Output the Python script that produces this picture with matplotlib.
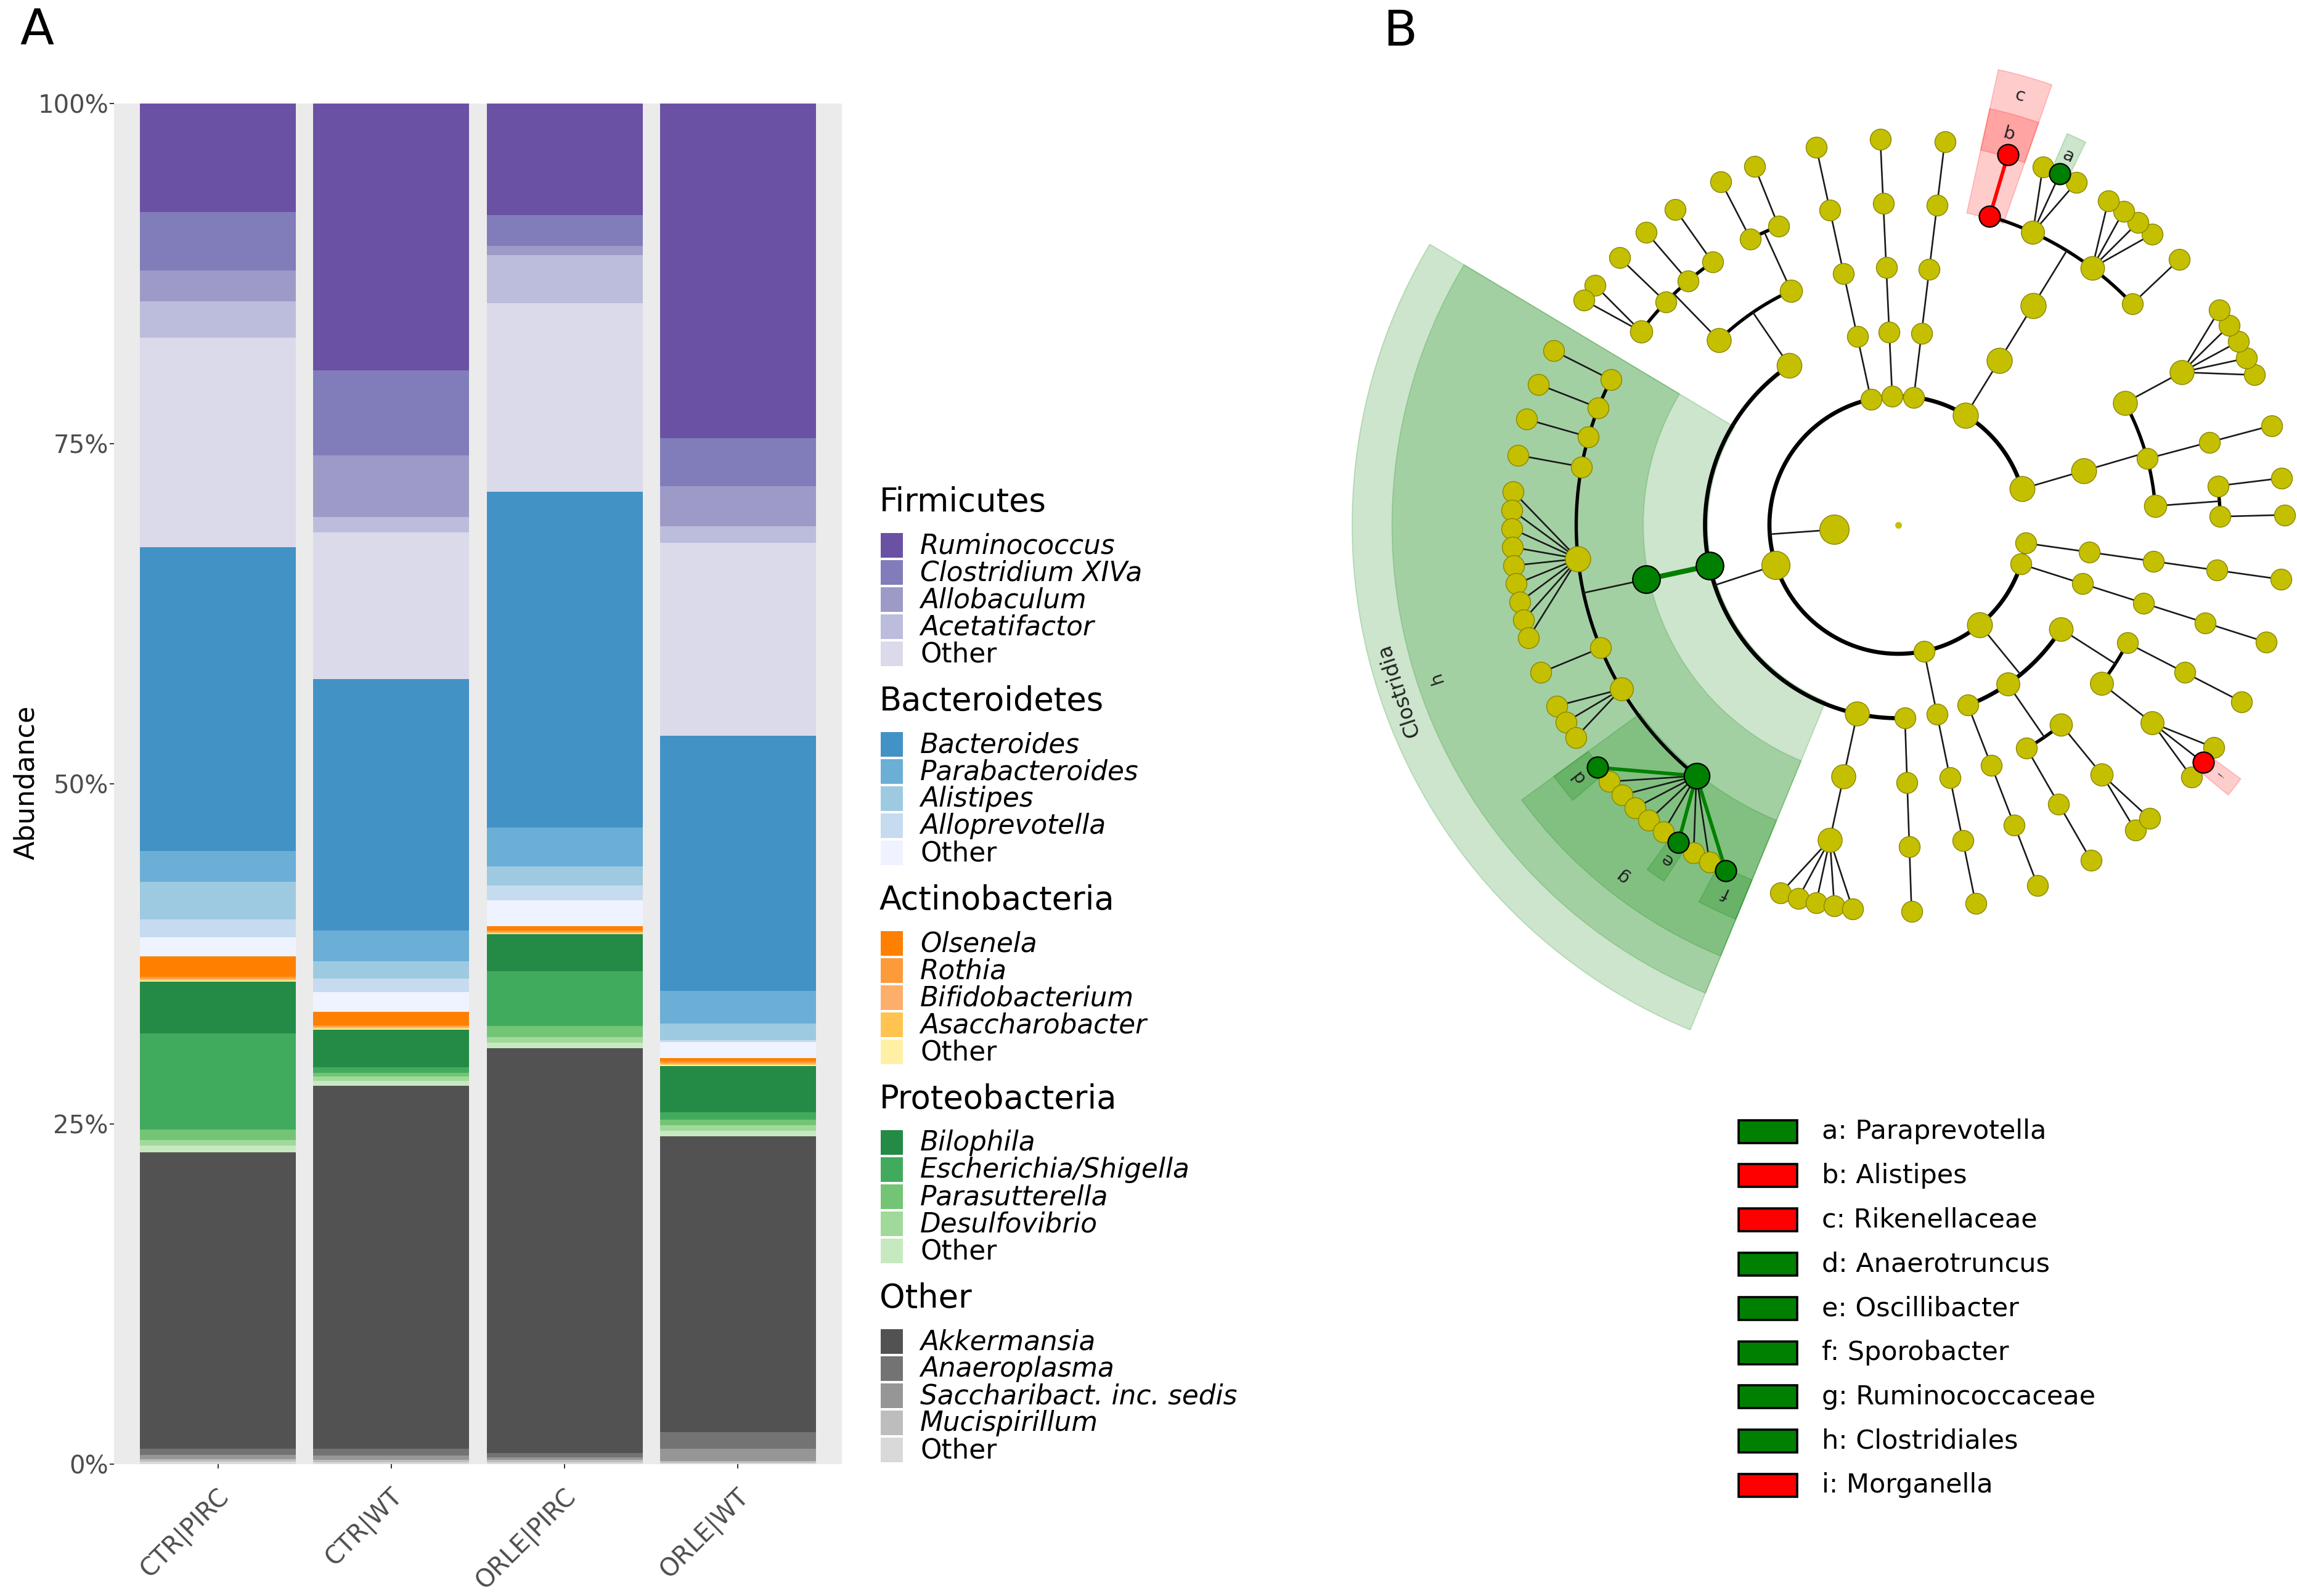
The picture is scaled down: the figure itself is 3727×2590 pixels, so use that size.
import numpy as np
import matplotlib
matplotlib.use("Agg")
import matplotlib.pyplot as plt
from matplotlib.patches import Rectangle, Wedge
from matplotlib.transforms import ScaledTranslation

plt.rcParams["font.family"] = ["DejaVu Sans"]

W, H, DPI = 3727, 2590, 100

# ---------------- panel A: genus level relative abundance (%) ----------------
samples = ["CTR|PIRC", "CTR|WT", "ORLE|PIRC", "ORLE|WT"]
group_names = ["Firmicutes", "Bacteroidetes", "Actinobacteria", "Proteobacteria", "Other"]

firmicutes_genera = ["Ruminococcus", "Clostridium XIVa", "Allobaculum", "Acetatifactor", "Other"]
bacteroidetes_genera = ["Bacteroides", "Parabacteroides", "Alistipes", "Alloprevotella", "Other"]
actinobacteria_genera = ["Olsenela", "Rothia", "Bifidobacterium", "Asaccharobacter", "Other"]
proteobacteria_genera = ["Bilophila", "Escherichia/Shigella", "Parasutterella", "Desulfovibrio", "Other"]
other_genera = ["Akkermansia", "Anaeroplasma", "Saccharibact. inc. sedis", "Mucispirillum", "Other"]

firmicutes_colors = ["#6a51a3", "#807dba", "#9e9ac8", "#bcbddc", "#dadaeb"]
bacteroidetes_colors = ["#4292c6", "#6baed6", "#9ecae1", "#c6dbef", "#eff3ff"]
actinobacteria_colors = ["#ff7f00", "#fd9a3a", "#fdae6b", "#fec44f", "#fff0a5"]
proteobacteria_colors = ["#238b45", "#41ab5d", "#74c476", "#a1d99b", "#c7e9c0"]
other_colors = ["#525252", "#737373", "#969696", "#bdbdbd", "#d9d9d9"]

# rows = genera (same order as above), columns = samples
firmicutes_pct = [
    [7.96, 19.63, 8.21, 24.58],
    [4.33, 6.24, 2.25, 3.54],
    [2.25, 4.50, 0.69, 2.94],
    [2.67, 1.14, 3.53, 1.21],
    [15.41, 10.80, 13.85, 14.20],
]
bacteroidetes_pct = [
    [22.30, 18.46, 24.70, 18.73],
    [2.30, 2.29, 2.82, 2.42],
    [2.74, 1.25, 1.41, 1.21],
    [1.33, 1.01, 1.09, 0.15],
    [1.41, 1.45, 1.89, 1.18],
]
actinobacteria_pct = [
    [1.49, 0.97, 0.33, 0.24],
    [0.10, 0.10, 0.08, 0.10],
    [0.05, 0.06, 0.05, 0.05],
    [0.10, 0.10, 0.10, 0.10],
    [0.08, 0.06, 0.05, 0.08],
]
proteobacteria_pct = [
    [3.83, 2.79, 2.74, 3.42],
    [7.05, 0.40, 4.03, 0.53],
    [0.80, 0.28, 0.81, 0.40],
    [0.40, 0.32, 0.40, 0.40],
    [0.50, 0.33, 0.41, 0.41],
]
other_pct = [
    [21.77, 26.69, 29.75, 21.77],
    [0.45, 0.50, 0.30, 1.21],
    [0.30, 0.30, 0.20, 0.89],
    [0.20, 0.18, 0.16, 0.14],
    [0.18, 0.15, 0.15, 0.10],
]

# ---------------- panel B: LEfSe cladogram ----------------
# phylum -> classes -> orders -> families (number of genera in each family)
clade_tree = [
    [[[1, 1], [1], [5]]],
    [[[1, 4, 3, 1]]],
    [[[1]]],
    [[[1]]],
    [[[1]]],
    [[[1, 1], [1, 1, 1, 2]], [[1, 1, 1, 1, 9, 1, 3, 10]], [[5]], [[1]]],
    [[[1]]],
    [[[1]], [[1], [2]], [[3], [1]]],
    [[[1]]],
    [[[1]]],
]
# significant clades: (phylum, class, order, family, genus) index path
sig_paths = [(1, 0, 0, 2, 1), (1, 0, 0, 3, 0), (1, 0, 0, 3), (5, 1, 0, 7, 0), (5, 1, 0, 7, 6),
             (5, 1, 0, 7, 9), (5, 1, 0, 7), (5, 1, 0), (5, 1), (7, 2, 0, 0, 1)]
sig_labels = ["a", "b", "c", "d", "e", "f", "g", "h", "Clostridia", "i"]
sig_taxa = ["Paraprevotella", "Alistipes", "Rikenellaceae", "Anaerotruncus", "Oscillibacter",
            "Sporobacter", "Ruminococcaceae", "Clostridiales", "Clostridia", "Morganella"]
sig_group = ["green", "red", "red", "green", "green", "green", "green", "green", "green", "red"]
group_color = {"green": "#008000", "red": "#ff0000"}

fig = plt.figure(figsize=(W / DPI, H / DPI), dpi=DPI)

# ======================= panel A =======================
axA = fig.add_axes([185 / W, 1 - 2376 / H, (1366 - 185) / W, (2376 - 168) / H])
axA.set_facecolor("#EBEBEB")
group_pct = [firmicutes_pct, bacteroidetes_pct, actinobacteria_pct, proteobacteria_pct, other_pct]
group_cols = [firmicutes_colors, bacteroidetes_colors, actinobacteria_colors,
              proteobacteria_colors, other_colors]
group_gen = [firmicutes_genera, bacteroidetes_genera, actinobacteria_genera,
             proteobacteria_genera, other_genera]

x = np.arange(len(samples))
bottom = np.zeros(len(samples))
for pct, cols in zip(group_pct[::-1], group_cols[::-1]):
    for vals, col in zip(pct[::-1], cols[::-1]):
        axA.bar(x, vals, width=0.9, bottom=bottom, color=col, linewidth=0)
        bottom += np.array(vals)

axA.set_xlim(-0.6, 3.6)
axA.set_ylim(0, 100)
axA.set_yticks([0, 25, 50, 75, 100])
axA.set_yticklabels(["0%", "25%", "50%", "75%", "100%"])
axA.set_xticks(x)
axA.set_xticklabels(samples)
for s in axA.spines.values():
    s.set_visible(False)
axA.tick_params(axis="y", length=5, width=1.4, color="#333333", labelsize=29,
                labelcolor="#4d4d4d", pad=1.5)
axA.tick_params(axis="x", length=5, width=1.4, color="#333333", labelsize=29,
                labelcolor="#4d4d4d", pad=34)
for lab in axA.get_xticklabels():
    lab.set_rotation(45)
    lab.set_ha("right")
    lab.set_va("baseline")
    lab.set_rotation_mode("anchor")
    lab.set_transform(lab.get_transform() + ScaledTranslation(0.2, 0, fig.dpi_scale_trans))

# ======================= panel B =======================
CX, CY, U = 3080, 852, 104.5
xl, yl = (-9.0, 6.2), (-8.6, 8.1)
axB = fig.add_axes([(CX + xl[0] * U) / W, 1 - (CY - yl[0] * U) / H,
                    (xl[1] - xl[0]) * U / W, (yl[1] - yl[0]) * U / H])
axB.set_xlim(*xl)
axB.set_ylim(*yl)
axB.axis("off")

nodes = {(): {"level": 1, "kids": []}}
leaves = []


def add_clade(path, sub, level):
    nodes[path] = {"level": level, "kids": []}
    if level == 6:
        leaves.append(path)
        return
    items = [None] * sub if level == 5 else sub
    for i, item in enumerate(items):
        nodes[path]["kids"].append(path + (i,))
        add_clade(path + (i,), item, level + 1)


for i, ph in enumerate(clade_tree):
    nodes[()]["kids"].append((i,))
    add_clade((i,), ph, 2)

# leaf spacing grows with how far up the tree two neighbouring leaves split
GAP_BY_SHARED = [3.5, 3.2, 2.9, 2.0, 1.0]
pos = [0.0]
gaps = []
for prev, cur in zip(leaves, leaves[1:]):
    shared = 0
    while shared < 4 and prev[shared] == cur[shared]:
        shared += 1
    gaps.append(GAP_BY_SHARED[shared])
    pos.append(pos[-1] + gaps[-1])
total = pos[-1] + GAP_BY_SHARED[0]
gaps_before = [GAP_BY_SHARED[0]] + gaps
gaps_after = gaps + [GAP_BY_SHARED[0]]
DEG = 360.0 / total
START = 1.5
for leaf, p in zip(leaves, pos):
    nodes[leaf]["theta"] = START + p * DEG


def set_angle(path):
    n = nodes[path]
    if not n["kids"]:
        n["n"] = 1
        return n["theta"]
    ths = [set_angle(k) for k in n["kids"]]
    n["theta"] = 0.5 * (ths[0] + ths[-1])
    n["n"] = sum(nodes[k]["n"] for k in n["kids"])
    return n["theta"]


set_angle(())


def xy(r, th):
    t = np.deg2rad(th)
    return r * np.cos(t), r * np.sin(t)


sig_col = {p: group_color[g] for p, g in zip(sig_paths, sig_group)}

# shaded sectors + labels
for p, lab, g in zip(sig_paths, sig_labels, sig_group):
    lev = nodes[p]["level"]
    idx = [i for i, lf in enumerate(leaves) if lf[:len(p)] == p]
    i0, i1 = idx[0], idx[-1]
    th1 = nodes[leaves[i0]]["theta"] - min(0.5 * gaps_before[i0], 1.5) * DEG
    th2 = nodes[leaves[i1]]["theta"] + min(0.5 * gaps_after[i1], 1.5) * DEG
    r_in = lev - 0.04
    r_out = 6.0 + 0.62 * (7 - lev)
    c = group_color[g]
    axB.add_patch(Wedge((0, 0), r_out, th1, th2, width=r_out - r_in, facecolor=c,
                        edgecolor=c, alpha=0.2, lw=1.3, zorder=1))
    tm = 0.5 * (th1 + th2)
    fs = 24 if len(lab) > 1 else (10 if lab == "i" else 21)
    axB.text(*xy(r_out - 0.31, tm), lab, rotation=tm - 90, rotation_mode="anchor",
             ha="center", va="center", fontsize=fs, color="#222222", zorder=5)

# edges
for path, n in nodes.items():
    if not n["kids"]:
        continue
    rp, tp = n["level"], n["theta"]
    rc = rp + 1
    if rc == 6:
        for k in n["kids"]:
            tk = nodes[k]["theta"]
            same = path in sig_col and sig_col.get(k) == sig_col[path]
            axB.plot(*zip(xy(rp, tp), xy(rc, tk)),
                     color=sig_col[path] if same else "#1a1a1a",
                     lw=4.2 if same else 1.9, zorder=2.5 if same else 2)
    else:
        tks = [nodes[k]["theta"] for k in n["kids"]]
        t0, t1 = min(tks + [tp]), max(tks + [tp])
        arc = np.linspace(t0, t1, max(2, int((t1 - t0) * 4)))
        axB.plot(*xy(rc, arc), color="black", lw=4.8 if rc <= 3 else 3.9,
                 solid_capstyle="butt", zorder=2)
        axB.plot(*xy(np.array([rp, rc]), tp), color="#1a1a1a", lw=1.9, zorder=2)
        only = n["kids"][0] if len(n["kids"]) == 1 else None
        if only is not None and path in sig_col and sig_col.get(only) == sig_col[path]:
            axB.plot(*zip(xy(rp, tp), xy(rc, nodes[only]["theta"])),
                     color=sig_col[path], lw=6, zorder=2.5)

# nodes
for path, n in nodes.items():
    r_px = 17.0 + 1.6 * np.log(n["n"])
    s = (2 * r_px * 72 / DPI) ** 2
    if path in sig_col:
        axB.scatter(*xy(n["level"], n["theta"]), s=s, color=sig_col[path],
                    edgecolors="black", linewidths=1.6, zorder=4)
    else:
        axB.scatter(*xy(n["level"], n["theta"]), s=s, color="#c4c000",
                    edgecolors="#8a8600", linewidths=1.0, zorder=3)
axB.scatter([0], [0], s=(2 * 5.5 * 72 / DPI) ** 2, color="#c4c000", linewidths=0, zorder=3)

# ======================= legends and labels (pixel overlay) =======================
ov = fig.add_axes([0, 0, 1, 1])
ov.set_xlim(0, W)
ov.set_ylim(H, 0)
ov.axis("off")

ov.text(60, 50, "A", fontsize=58, ha="center", va="center")
ov.text(2272, 52, "B", fontsize=58, ha="center", va="center")
ov.text(43, 1270, "Abundance", fontsize=32, rotation=90, ha="center", va="center")

for gi, (name, gens, cols) in enumerate(zip(group_names, group_gen, group_cols)):
    ty = 815 + gi * 323
    ov.text(1427, ty, name, fontsize=38, ha="left", va="center")
    for k, (gname, col) in enumerate(zip(gens, cols)):
        top = ty + 50 + k * 43.9
        ov.add_patch(Rectangle((1429, top), 36, 40, facecolor=col, edgecolor="none"))
        ov.text(1493, top + 21, gname, fontsize=31.5, ha="left", va="center",
                style="normal" if gname == "Other" else "italic")

row = 0
for lab, taxon, g in zip(sig_labels, sig_taxa, sig_group):
    if len(lab) > 1:
        continue
    yc = 1836 + row * 71.8
    ov.add_patch(Rectangle((2821, yc - 18.5), 95, 37, facecolor=group_color[g],
                           edgecolor="black", lw=2.6))
    ov.text(2956, yc, f"{lab}: {taxon}", fontsize=31, ha="left", va="center")
    row += 1

fig.savefig("out.png", dpi=DPI)
